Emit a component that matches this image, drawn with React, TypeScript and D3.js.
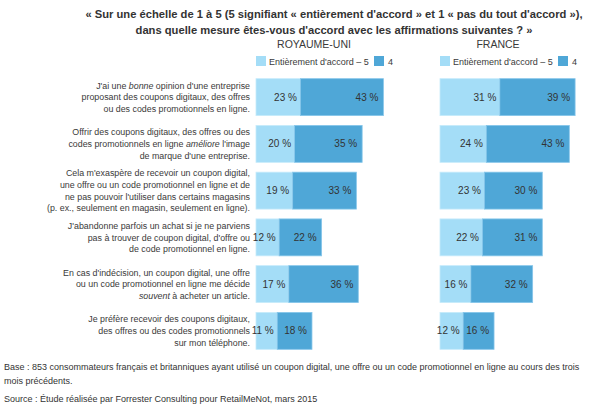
import React from "react";
import * as d3 from "d3";

const titleLines = [
  "« Sur une échelle de 1 à 5 (5 signifiant « entièrement d'accord » et 1 « pas du tout d'accord »),",
  "dans quelle mesure êtes-vous d'accord avec les affirmations suivantes ? »",
];

const statements: string[][] = [
  ["J'ai une *bonne* opinion d'une entreprise", "proposant des coupons digitaux, des offres", "ou des codes promotionnels en ligne."],
  ["Offrir des coupons digitaux, des offres ou des", "codes promotionnels en ligne *améliore* l'image", "de marque d'une entreprise."],
  ["Cela m'exaspère de recevoir un coupon digital,", "une offre ou un code promotionnel en ligne et de", "ne pas pouvoir l'utiliser dans certains magasins", "(p. ex., seulement en magasin, seulement en ligne)."],
  ["J'abandonne parfois un achat si je ne parviens", "pas à trouver de coupon digital, d'offre ou", "de code promotionnel en ligne."],
  ["En cas d'indécision, un coupon digital, une offre", "ou un code promotionnel en ligne me décide", "*souvent* à acheter un article."],
  ["Je préfère recevoir des coupons digitaux,", "des offres ou des codes promotionnels", "sur mon téléphone."],
];

const countries = ["ROYAUME-UNI", "FRANCE"];
const ukFive = [23, 20, 19, 12, 17, 11];
const ukFour = [43, 35, 33, 22, 36, 18];
const frFive = [31, 24, 23, 22, 16, 12];
const frFour = [39, 43, 30, 31, 32, 16];
const seriesNames = ["Entièrement d'accord – 5", "4"];

const footLines = [
  "Base : 853 consommateurs français et britanniques ayant utilisé un coupon digital, une offre ou un code promotionnel en ligne au cours des trois",
  "mois précédents.",
];
const sourceLine = "Source : Étude réalisée par Forrester Consulting pour RetailMeNot, mars 2015";

const W = 595;
const H = 405;
const FONT = "'Liberation Sans', Arial, Helvetica, sans-serif";
const LIGHT = "#a4ddf7";
const DARK = "#4fa7d7";
const TXT = "#3a3a3a";

function RichLine({ s }: { s: string }) {
  const parts = s.split("*");
  return (
    <>
      {parts.map((p, i) => (
        <tspan key={i} fontStyle={i % 2 === 1 ? "italic" : "normal"}>{p}</tspan>
      ))}
    </>
  );
}

export default function App() {
  const y = d3
    .scaleBand<number>()
    .domain(d3.range(statements.length))
    .range([74, 354])
    .paddingInner(0.21)
    .paddingOuter(0.1);
  const x = d3.scaleLinear().domain([0, 100]).range([0, 193]);
  const panelX = [256, 440];
  const panels = [
    { name: countries[0], five: ukFive, four: ukFour },
    { name: countries[1], five: frFive, four: frFour },
  ];
  const lh = 11.7;

  return (
    <svg
      width={W}
      height={H}
      style={{ position: "absolute", left: 0, top: 0, background: "#fff" }}
      fontFamily={FONT}
    >
      <rect x={0} y={0} width={W} height={H} fill="#fff" />
      {titleLines.map((t, i) => (
        <text key={i} x={334} y={17.5 + i * 16} textAnchor="middle" fontSize={11.2} fontWeight="bold" fill="#333">
          {t}
        </text>
      ))}

      {statements.map((lines, i) => {
        const cy = (y(i) as number) + y.bandwidth() / 2;
        const start = cy - ((lines.length - 1) * lh) / 2;
        return (
          <text key={i} x={250} textAnchor="end" fontSize={8.85} fill={TXT}>
            {lines.map((l, j) => (
              <tspan key={j} x={250} y={start + j * lh + 3.2}>
                <RichLine s={l} />
              </tspan>
            ))}
          </text>
        );
      })}

      {panels.map((p, pi) => {
        const x0 = panelX[pi];
        return (
          <g key={pi}>
            <text x={x0 + 58} y={48} textAnchor="middle" fontSize={10.5} fill={TXT}>
              {p.name}
            </text>
            <rect x={x0} y={56} width={10} height={10} fill={LIGHT} />
            <text x={x0 + 13} y={64.5} fontSize={9} fill={TXT}>{seriesNames[0]}</text>
            <rect x={x0 + 118} y={56} width={10} height={10} fill={DARK} />
            <text x={x0 + 132} y={64.5} fontSize={9} fill={TXT}>{seriesNames[1]}</text>
            {p.five.map((v, i) => {
              const by = y(i) as number;
              const bh = y.bandwidth();
              const w5 = x(v);
              const w4 = x(p.four[i]);
              return (
                <g key={i}>
                  <rect x={x0} y={by} width={w5} height={bh} fill={LIGHT} stroke="#c6ebfb" strokeWidth={0.8} />
                  <rect x={x0 + w5} y={by} width={w4} height={bh} fill={DARK} stroke="#86c6ea" strokeWidth={0.8} />
                  <text x={x0 + w5 - 3.5} y={by + bh / 2 + 3.6} textAnchor="end" fontSize={10} fill="#333">
                    {v} %
                  </text>
                  <text x={x0 + w5 + w4 - 5} y={by + bh / 2 + 3.6} textAnchor="end" fontSize={10} fill="#333">
                    {p.four[i]} %
                  </text>
                </g>
              );
            })}
          </g>
        );
      })}

      {footLines.map((t, i) => (
        <text key={i} x={4} y={370 + i * 14} fontSize={9} fill="#333">{t}</text>
      ))}
      <text x={4} y={402} fontSize={9} fill="#333">{sourceLine}</text>
    </svg>
  );
}
